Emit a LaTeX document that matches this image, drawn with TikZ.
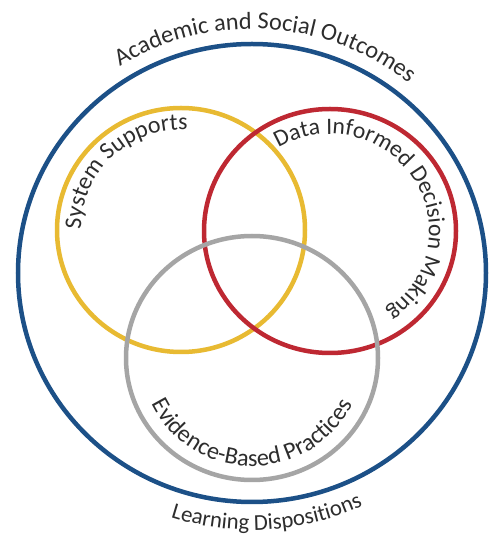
\documentclass[tikz,border=0pt]{standalone}
\usepackage{fontspec}
\setmainfont{Carlito}
\usetikzlibrary{decorations.text}
\definecolor{ringblue}{RGB}{28,80,135}
\definecolor{ringyellow}{RGB}{232,186,50}
\definecolor{ringred}{RGB}{190,40,50}
\definecolor{ringgray}{RGB}{165,165,165}
\definecolor{txt}{RGB}{45,45,45}
\tikzset{
  ring/.style={line width=4.5pt},
  arctext/.style={decorate, decoration={text along path, text align=center, text color=txt, text={#1}}}
}
\begin{document}
\begin{tikzpicture}[x=1pt,y=1pt]
\useasboundingbox (0,0) rectangle (492,536);
\fill[white] (0,0) rectangle (492,536);
\coordinate (cb) at (252,263);
\coordinate (cy) at (181,306);
\coordinate (cr) at (330,305);
\coordinate (cg) at (252,178);
% rings
\draw[ring, ringblue] (cb) ellipse [x radius=234, y radius=229];
\draw[ring, ringyellow] (cy) ellipse [x radius=124, y radius=122];
\draw[ring, ringred] (cr) ellipse [x radius=126, y radius=122];
\draw[ring, ringgray] (cg) ellipse [x radius=126, y radius=122];
% texts
\path[arctext={|\fontsize{24.3}{24}\selectfont|Academic and Social Outcomes}]
  (cb) ++(146.5:249 and 244) arc[start angle=146.5, end angle=26.5, x radius=249, y radius=244];
\path[arctext={|\fontsize{22.8}{23}\selectfont|Learning Dispositions}]
  (cb) ++(-146.5:262 and 257) arc[start angle=-146.5, end angle=-26.5, x radius=262, y radius=257];
\path[arctext={|\fontsize{24}{24}\selectfont|System Supports}]
  (cy) ++(193:100 and 100) arc[start angle=193, end angle=73, x radius=100, y radius=100];
\path[arctext={|\fontsize{23.6}{24}\selectfont|Data Informed Decision Making}]
  (cr) ++(143:99 and 97) arc[start angle=143, end angle=-77, x radius=99, y radius=97];
\path[arctext={|\fontsize{24.3}{24}\selectfont|Evidence-Based Practices}]
  (cg) ++(-170:111 and 108) arc[start angle=-170, end angle=-10, x radius=111, y radius=108];
\end{tikzpicture}
\end{document}
